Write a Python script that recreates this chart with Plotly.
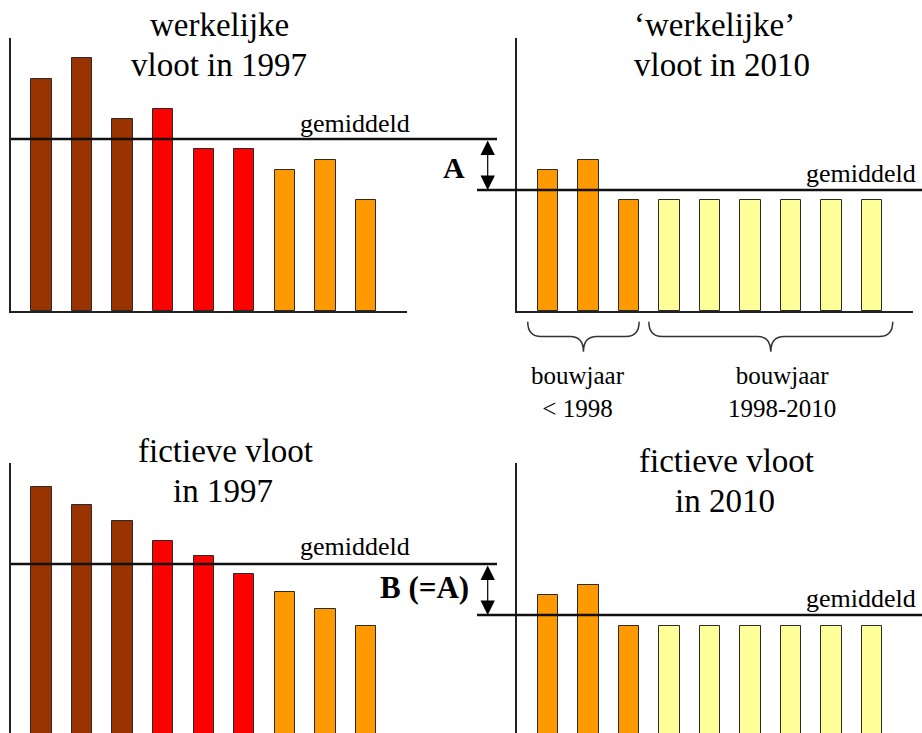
import plotly.graph_objects as go

W, H = 922, 733

# ---------------- data ----------------
bars_x = [1, 2, 3, 4, 5, 6, 7, 8, 9]
real_1997 = [23.2, 25.3, 19.2, 20.2, 16.2, 16.2, 14.1, 15.1, 11.1]
real_2010 = [14.1, 15.1, 11.1, 11.1, 11.1, 11.1, 11.1, 11.1, 11.1]
fict_1997 = [24.9, 23.1, 21.5, 19.5, 18.0, 16.2, 14.4, 12.7, 11.0]
fict_2010 = [14.1, 15.1, 11.0, 11.0, 11.0, 11.0, 11.0, 11.0, 11.0]
mean_1997 = 17.2
mean_2010 = 12.1

BROWN, RED, ORANGE, YELLOW = "#993300", "#FF0000", "#FF9900", "#FFFF99"
colors_1997 = [BROWN] * 3 + [RED] * 3 + [ORANGE] * 3
colors_2010 = [ORANGE] * 3 + [YELLOW] * 6

titles = {
    "tl": ["werkelijke", "vloot in 1997"],
    "tr": ["‘werkelijke’", "vloot in 2010"],
    "bl": ["fictieve vloot", "in 1997"],
    "br": ["fictieve vloot", "in 2010"],
}
mean_label = "gemiddeld"
group_labels = ["bouwjaar<br>&lt; 1998", "bouwjaar<br>1998-2010"]
group_spans = [(0.5, 3.25), (3.49, 9.51)]

FONT = "Liberation Serif"


def px(x):
    return x / W


def py(y):
    return (H - y) / H


fig = go.Figure()

panels = [
    ("x", "y", real_1997, colors_1997),
    ("x2", "y2", real_2010, colors_2010),
    ("x3", "y3", fict_1997, colors_1997),
    ("x4", "y4", fict_2010, colors_2010),
]
for xa, ya, vals, cols in panels:
    fig.add_trace(go.Bar(
        x=bars_x, y=vals, xaxis=xa, yaxis=ya, width=0.5,
        marker=dict(color=cols, line=dict(color="#2a2a2a", width=1)),
        hoverinfo="skip", showlegend=False,
    ))

axcommon = dict(showgrid=False, zeroline=False, showticklabels=False, ticks="",
                linecolor="#222", linewidth=1.5)

top_dom = [py(311), py(38)]
bot_dom = [0, py(463)]
left_dom = [px(11), px(407)]
right_dom = [px(517), px(913)]

fig.update_layout(
    width=W, height=H, margin=dict(l=0, r=0, t=0, b=0),
    paper_bgcolor="white", plot_bgcolor="rgba(0,0,0,0)", showlegend=False,
    bargap=0,
    xaxis=dict(domain=left_dom, range=[0.248, 10.01], anchor="y", showline=True, **axcommon),
    yaxis=dict(domain=top_dom, range=[0, 27.3], anchor="x", showline=True, **axcommon),
    xaxis2=dict(domain=right_dom, range=[0.235, 10.01], anchor="y2", showline=True, **axcommon),
    yaxis2=dict(domain=top_dom, range=[0, 27.3], anchor="x2", showline=True, **axcommon),
    xaxis3=dict(domain=left_dom, range=[0.248, 10.01], anchor="y3", showline=False, **axcommon),
    yaxis3=dict(domain=bot_dom, range=[0.3, 27.3], anchor="x3", showline=True, **axcommon),
    xaxis4=dict(domain=right_dom, range=[0.235, 10.01], anchor="y4", showline=False, **axcommon),
    yaxis4=dict(domain=bot_dom, range=[0.3, 27.3], anchor="x4", showline=True, **axcommon),
)

shapes = []
# mean lines
for yref, val in [("y", mean_1997), ("y3", mean_1997)]:
    shapes.append(dict(type="line", xref="paper", yref=yref, x0=px(11), x1=px(497),
                       y0=val, y1=val, line=dict(color="#111", width=2.5)))
for yref, val in [("y2", mean_2010), ("y4", mean_2010)]:
    shapes.append(dict(type="line", xref="paper", yref=yref, x0=px(477), x1=1,
                       y0=val, y1=val, line=dict(color="#111", width=2.5)))

# braces under top-right panel
yt, ym, ytip = py(321.7), py(336.5), py(351.7)
r = 0.33
for x0, x1 in group_spans:
    xc = (x0 + x1) / 2
    path = (f"M {x0},{yt} Q {x0},{ym} {x0 + r},{ym} L {xc - r},{ym} "
            f"Q {xc},{ym} {xc},{ytip} Q {xc},{ym} {xc + r},{ym} "
            f"L {x1 - r},{ym} Q {x1},{ym} {x1},{yt}")
    shapes.append(dict(type="path", xref="x2", yref="paper", path=path,
                       line=dict(color="#333", width=1.5)))
fig.update_layout(shapes=shapes)

ann = []


def txt(s, x, y, size, bold=False, xanchor="center"):
    ann.append(dict(text=f"<b>{s}</b>" if bold else s, x=px(x), y=py(y),
                    xref="paper", yref="paper", xanchor=xanchor, yanchor="middle",
                    showarrow=False, font=dict(family=FONT, size=size, color="black")))


# titles
txt(titles["tl"][0], 219, 25, 33)
txt(titles["tl"][1], 219, 65, 33)
txt(titles["tr"][0], 714, 25, 33)
txt(titles["tr"][1], 722, 65, 33)
txt(titles["bl"][0], 225, 450.5, 33)
txt(titles["bl"][1], 223, 490.5, 33)
txt(titles["br"][0], 726, 460.5, 33)
txt(titles["br"][1], 725, 500.5, 33)

# mean labels
txt(mean_label, 412, 123.6, 26, xanchor="right")
txt(mean_label, 918, 173.3, 26, xanchor="right")
txt(mean_label, 412, 546.6, 26, xanchor="right")
txt(mean_label, 918, 598.3, 26, xanchor="right")

# A / B labels
txt("A", 454, 167, 30, bold=True)
txt("B (=A)", 424, 587, 31, bold=True)

# group labels
ann.append(dict(text=group_labels[0], x=px(578), y=py(360), xref="paper", yref="paper",
                xanchor="center", yanchor="top", showarrow=False,
                font=dict(family=FONT, size=25, color="black")))
ann.append(dict(text=group_labels[1], x=px(782), y=py(360), xref="paper", yref="paper",
                xanchor="center", yanchor="top", showarrow=False,
                font=dict(family=FONT, size=25, color="black")))

# double arrows
for yref, top, bot in [("y2", mean_1997, mean_2010), ("y4", mean_1997, mean_2010)]:
    ann.append(dict(text="", x=px(487.7), y=bot, xref="paper", yref=yref,
                    ax=0, ay=top, axref="pixel", ayref=yref,
                    showarrow=True, arrowhead=2, startarrowhead=2, arrowside="end+start",
                    arrowwidth=1.2, arrowsize=2.4, startarrowsize=2.4,
                    standoff=0, startstandoff=0, arrowcolor="black"))

fig.update_layout(annotations=ann)

fig.write_html(
    "out.html",
    config={"displayModeBar": False},
    post_script="document.body.style.margin='0px';document.body.style.overflow='hidden';",
)
